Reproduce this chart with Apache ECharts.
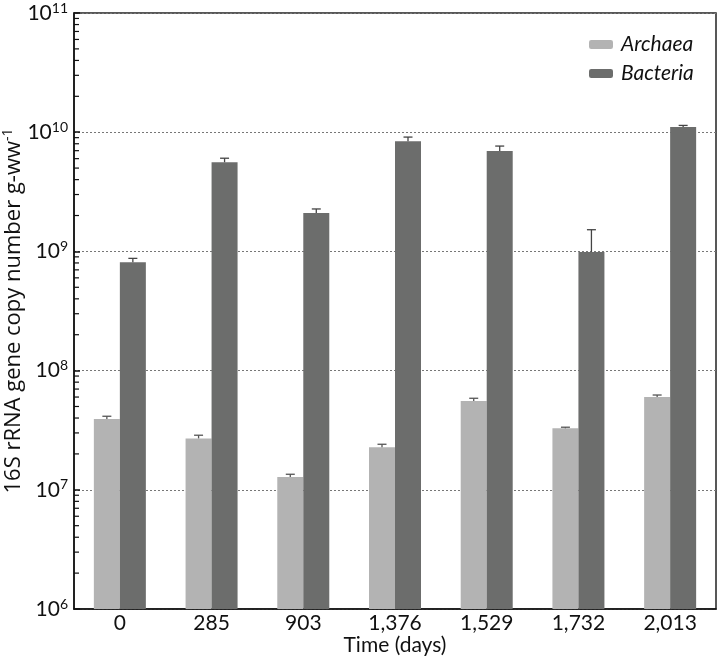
<!DOCTYPE html>
<html>
<head>
<meta charset="utf-8">
<script src="https://cdn.jsdelivr.net/npm/echarts@6/dist/echarts.min.js"></script>
<style>html,body{margin:0;padding:0;background:#fff}#c{width:721px;height:664px}</style>
</head>
<body>
<div id="c"></div>
<script>
var categories = ['0', '285', '903', '1,376', '1,529', '1,732', '2,013'];
var archaea = [3.93e7, 2.7e7, 1.28e7, 2.27e7, 5.56e7, 3.28e7, 6.0e7];
var archaeaErrTop = [4.14e7, 2.87e7, 1.35e7, 2.41e7, 5.86e7, 3.35e7, 6.24e7];
var bacteria = [8.1e8, 5.6e9, 2.1e9, 8.4e9, 6.95e9, 9.9e8, 1.107e10];
var bacteriaErrTop = [8.74e8, 6.05e9, 2.27e9, 9.1e9, 7.65e9, 1.52e9, 1.14e10];
var decades = [1e6, 1e7, 1e8, 1e9, 1e10];
var minorMultipliers = [2, 3, 4, 5, 6, 7, 8, 9];

var FONT = 'Lato';
var BAR_W = 26;

var minorTicks = [];
decades.forEach(function (d) {
  minorMultipliers.forEach(function (m) { minorTicks.push([0, d * m]); });
});

function errData(top, base) {
  return base.map(function (v, i) { return [i, v, top[i]]; });
}
function errRender(offset, color) {
  return function (params, api) {
    var i = api.value(0);
    var p = api.coord([i, api.value(1)]);
    var t = api.coord([i, api.value(2)]);
    var x = p[0] + offset;
    return {
      type: 'group',
      children: [
        { type: 'line', shape: { x1: x, y1: p[1], x2: x, y2: t[1] }, style: { stroke: color, lineWidth: 1.3 } },
        { type: 'line', shape: { x1: x - 4.5, y1: t[1], x2: x + 4.5, y2: t[1] }, style: { stroke: color, lineWidth: 1.3 } }
      ]
    };
  };
}

var chart = echarts.init(document.getElementById('c'));
chart.setOption({
  animation: false,
  backgroundColor: '#fff',
  textStyle: { fontFamily: FONT },
  grid: { left: 74, right: 5, top: 13, bottom: 55, containLabel: false, outerBoundsMode: 'none', show: true, borderColor: '#222', borderWidth: 1.5, backgroundColor: 'transparent' },
  legend: {
    orient: 'vertical', left: 589, top: 34, padding: 0,
    itemWidth: 24, itemHeight: 9, itemGap: 8,
    data: ['Archaea', 'Bacteria'],
    textStyle: { fontFamily: FONT, fontSize: 21, fontStyle: 'italic', color: '#111', padding: [0, 0, 0, 3] }
  },
  xAxis: {
    type: 'category', data: categories,
    name: 'Time (days)', nameLocation: 'middle', nameGap: 26, nameMoveOverlap: false,
    nameTextStyle: { fontFamily: FONT, fontSize: 21, color: '#111' },
    axisLine: { lineStyle: { color: '#111', width: 1.5 } },
    axisTick: { show: false },
    axisLabel: { fontFamily: FONT, fontSize: 21, color: '#111', margin: 4 },
    splitLine: { show: false }
  },
  yAxis: {
    type: 'log', logBase: 10, min: 1e6, max: 1e11,
    name: '{n|16S rRNA gene copy number g-ww}{s|-1}', nameLocation: 'middle', nameGap: 47, nameMoveOverlap: false,
    nameTextStyle: {
      rich: {
        n: { fontFamily: 'Open Sans', fontSize: 22, color: '#111', lineHeight: 26 },
        s: { fontFamily: 'Open Sans', fontSize: 14, color: '#111', verticalAlign: 'top', lineHeight: 16 }
      }
    },
    axisLine: { show: true, lineStyle: { color: '#111', width: 1.5 } },
    axisTick: { show: true, inside: true, length: 6, lineStyle: { color: '#111', width: 1.5 } },
    axisLabel: {
      margin: 6,
      formatter: function (v) {
        var e = Math.round(Math.log(v) / Math.LN10);
        return '{b|10}{s|' + e + '}';
      },
      rich: {
        b: { fontFamily: FONT, fontSize: 21, color: '#111', lineHeight: 24 },
        s: { fontFamily: FONT, fontSize: 14, color: '#111', verticalAlign: 'top', lineHeight: 14 }
      }
    },
    splitLine: { show: true, lineStyle: { color: '#777', type: [2, 2], width: 1 } }
  },
  series: [
    { name: 'Archaea', type: 'bar', data: archaea, barWidth: BAR_W, barGap: '0%', itemStyle: { color: '#b3b3b3' }, z: 2 },
    { name: 'Bacteria', type: 'bar', data: bacteria, barWidth: BAR_W, barGap: '0%', itemStyle: { color: '#6c6d6c' }, z: 2 },
    { type: 'custom', silent: true, z: 5, data: errData(archaeaErrTop, archaea), renderItem: errRender(-BAR_W / 2, '#555'), encode: { x: 0, y: [1, 2] } },
    { type: 'custom', silent: true, z: 5, data: errData(bacteriaErrTop, bacteria), renderItem: errRender(BAR_W / 2, '#444'), encode: { x: 0, y: [1, 2] } },
    {
      type: 'custom', silent: true, z: 6, data: minorTicks, encode: { x: 0, y: 1 },
      renderItem: function (params, api) {
        var y = api.coord([0, api.value(1)])[1];
        var x0 = params.coordSys.x;
        return { type: 'line', shape: { x1: x0, y1: y, x2: x0 + 5, y2: y }, style: { stroke: '#111', lineWidth: 1.2 } };
      }
    }
  ]
});
</script>
</body>
</html>
